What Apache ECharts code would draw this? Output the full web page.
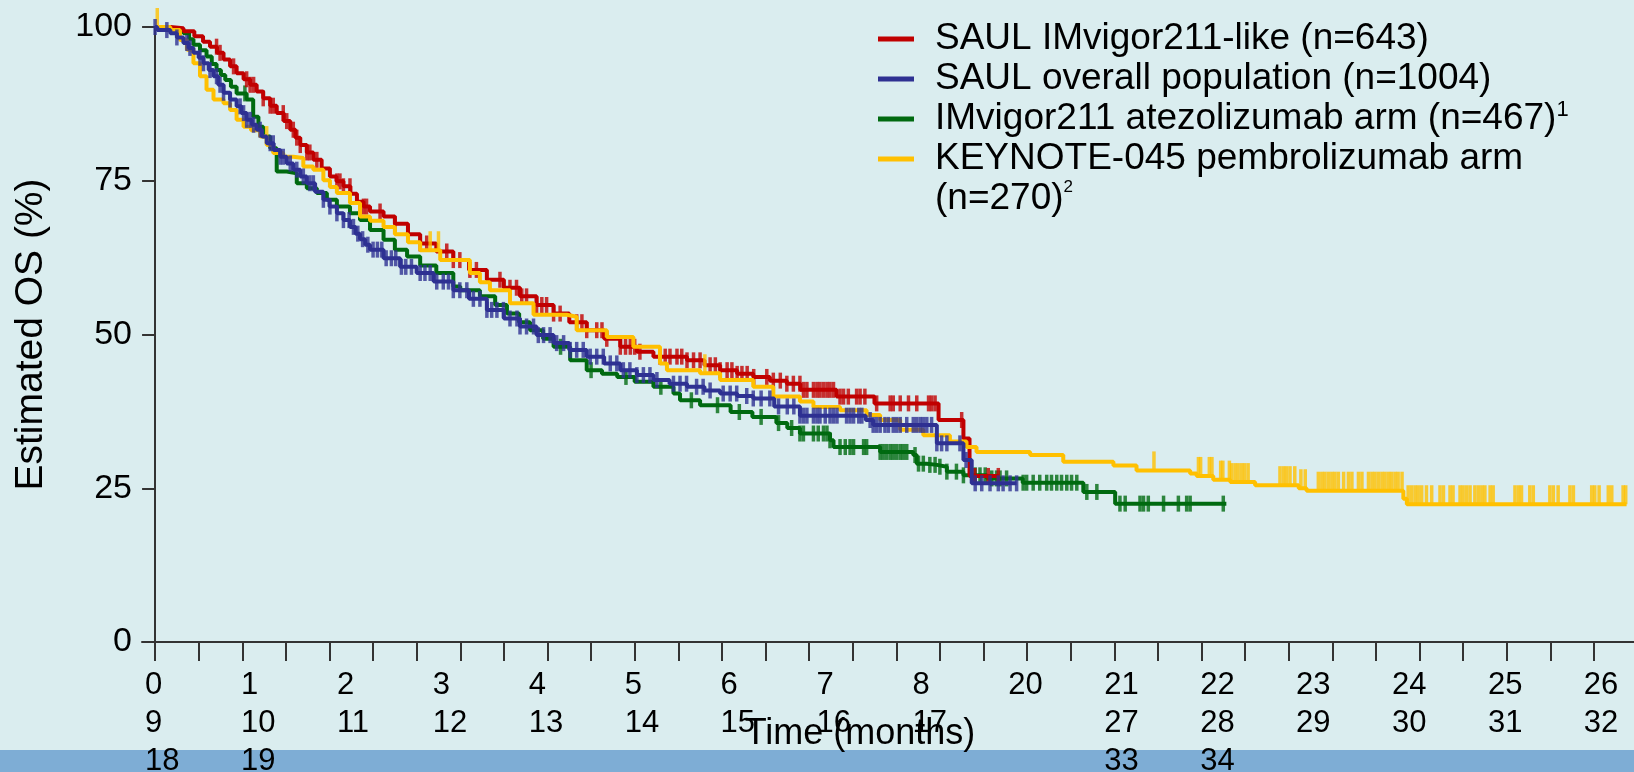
<!DOCTYPE html>
<html><head><meta charset="utf-8">
<script src="https://cdn.jsdelivr.net/npm/echarts@6/dist/echarts.min.js"></script>
<style>html,body{margin:0;padding:0;background:#daedef}#c{width:1634px;height:772px}</style>
</head><body><div id="c"></div><script>
// ---------- data ----------
const seriesNames = ['SAUL IMvigor211-like (n=643)','SAUL overall population (n=1004)','IMvigor211 atezolizumab arm (n=467)','KEYNOTE-045 pembrolizumab arm (n=270)'];
const legendTexts = ['SAUL IMvigor211-like (n=643)','SAUL overall population (n=1004)','IMvigor211 atezolizumab arm (n=467){sup|1}','KEYNOTE-045 pembrolizumab arm\n(n=270){sup2|2}'];
const seriesColors = ['#c00000','#2e3192','#006a10','#ffc000'];

const redCurve = [[0,100],[0.35,99.8],[0.65,99.3],[0.9,98.5],[1.1,97.6],[1.26,96.8],[1.42,95.8],[1.57,94.7],[1.72,93.6],[1.87,92.5],[2.03,91.5],[2.18,90.6],[2.33,89.5],[2.48,88.4],[2.64,87.2],[2.79,86.0],[2.95,84.7],[3.1,83.3],[3.22,82.0],[3.33,80.8],[3.48,79.6],[3.63,78.4],[3.82,77.0],[4.01,75.7],[4.16,74.9],[4.32,74.1],[4.48,72.9],[4.63,71.6],[4.78,70.8],[4.93,70.0],[5.24,69.2],[5.5,68.0],[5.8,66.3],[6.08,64.8],[6.45,63.5],[6.84,62.1],[7.2,60.5],[7.61,58.9],[8.0,57.6],[8.37,56.2],[8.75,54.8],[9.14,53.4],[9.5,52.0],[9.9,50.7],[10.3,49.3],[10.67,48.0],[11.05,47.2],[11.43,46.4],[12.2,45.8],[12.6,45.0],[12.96,44.2],[13.35,43.6],[13.72,43.1],[14.1,42.5],[14.49,42.0],[14.8,41.0],[15.63,39.9],[16.5,38.8],[17.97,36.1],[18.54,33.1],[18.68,27.0],[19.35,27.0]];
const blueCurve = [[0,100],[0.05,99.5],[0.35,99.0],[0.5,98.3],[0.65,97.4],[0.77,96.6],[0.88,95.8],[1.0,95.0],[1.11,94.1],[1.23,93.0],[1.34,92.0],[1.45,90.6],[1.57,89.3],[1.72,88.2],[1.87,87.1],[1.98,86.0],[2.1,84.9],[2.22,84.1],[2.33,83.3],[2.45,82.2],[2.56,81.1],[2.72,80.0],[2.87,78.9],[3.02,77.8],[3.17,76.8],[3.33,75.7],[3.48,74.6],[3.67,73.2],[3.86,71.9],[4.0,70.8],[4.17,69.7],[4.32,68.6],[4.47,67.5],[4.6,66.4],[4.7,65.5],[4.82,64.6],[4.93,63.8],[5.24,62.4],[5.62,61.0],[6.0,60.0],[6.39,58.6],[6.84,57.2],[7.2,55.8],[7.61,54.0],[8.0,52.6],[8.37,51.3],[8.75,49.9],[9.14,48.6],[9.5,47.5],[9.9,46.4],[10.3,45.3],[10.67,44.2],[11.05,43.4],[11.43,42.6],[11.8,42.0],[12.2,41.5],[12.6,40.9],[12.96,40.4],[13.35,40.0],[13.72,39.6],[14.2,38.3],[14.79,36.8],[16.3,36.1],[16.47,35.3],[17.93,32.3],[18.54,29.6],[18.73,25.8],[19.76,25.8]];
const greenCurve = [[0,100],[0.35,99.6],[0.65,99.0],[0.78,98.0],[0.88,97.1],[1.03,96.2],[1.18,95.2],[1.3,94.0],[1.41,93.0],[1.51,92.2],[1.61,91.4],[1.74,90.3],[1.87,89.2],[2.1,88.2],[2.25,85.4],[2.37,83.8],[2.48,82.2],[2.64,80.3],[2.79,76.5],[3.02,76.2],[3.25,74.6],[3.48,73.8],[3.71,73.0],[3.94,71.9],[4.17,70.8],[4.47,69.7],[4.7,68.6],[4.93,67.0],[5.24,65.4],[5.5,63.8],[5.78,62.7],[6.08,61.2],[6.45,60.0],[6.84,57.8],[7.0,57.2],[7.45,56.2],[7.8,54.8],[8.07,53.4],[8.35,52.0],[8.6,50.7],[8.9,49.3],[9.14,48.0],[9.52,45.8],[9.9,44.2],[10.25,43.6],[10.6,43.1],[11.0,42.3],[11.43,41.5],[11.89,40.4],[12.04,39.3],[12.5,38.5],[13.2,37.4],[13.7,36.6],[14.25,35.6],[14.5,34.8],[14.79,33.9],[15.48,32.8],[15.56,31.7],[16.63,30.9],[17.39,30.4],[17.47,29.0],[17.7,28.8],[17.93,28.5],[18.16,27.7],[18.54,27.1],[19.08,26.6],[19.9,25.9],[21.29,24.4],[22.02,22.5],[24.57,22.5]];
const yellowCurve = [[0,100],[0.19,100],[0.35,99.5],[0.57,97.9],[0.73,96.3],[0.88,94.1],[1.03,92.0],[1.18,89.8],[1.34,88.2],[1.57,87.6],[1.72,86.5],[1.87,84.9],[2.03,83.8],[2.2,83.2],[2.41,82.2],[2.56,80.8],[2.71,79.5],[2.94,78.9],[3.17,78.7],[3.4,77.3],[3.63,76.8],[3.86,75.1],[4.01,74.0],[4.17,73.0],[4.47,71.4],[4.7,69.2],[4.93,68.5],[5.24,67.5],[5.5,66.3],[5.8,65.0],[6.08,63.7],[6.54,62.1],[7.22,60.0],[7.45,58.5],[7.68,57.2],[8.14,55.1],[8.68,53.2],[9.44,52.9],[9.67,50.7],[10.36,49.6],[10.97,48.0],[11.58,45.3],[11.74,44.2],[12.5,43.7],[12.96,42.6],[13.72,41.5],[14.18,39.9],[14.79,39.1],[15.1,38.2],[15.71,37.7],[16.32,36.9],[16.63,36.1],[17.09,34.5],[17.62,33.6],[18.23,32.6],[18.61,31.7],[18.84,30.9],[20.07,30.4],[20.83,29.3],[21.98,28.7],[22.51,27.9],[23.74,27.4],[23.89,27.0],[24.27,26.4],[24.66,26.0],[25.23,25.5],[26.23,25.0],[26.41,24.6],[28.63,23.3],[28.71,22.4],[33.75,22.4]];

const redCensor = [1.41,1.49,1.8,2.1,2.18,2.26,2.48,2.64,2.71,2.94,3.02,3.17,3.25,3.33,3.48,3.55,3.71,4.17,4.24,4.32,4.47,4.78,4.85,5.16,5.5,5.8,6.08,6.23,6.69,6.84,6.99,7.22,7.37,7.91,8.14,8.29,8.41,8.52,8.75,8.87,8.98,9.14,9.29,9.67,9.79,9.9,10.13,10.25,10.36,10.67,10.79,10.9,11.0,11.12,11.58,11.7,11.81,11.97,12.08,12.2,12.35,12.5,12.73,12.85,12.96,13.12,13.23,13.35,13.46,13.58,13.73,14.03,14.18,14.34,14.49,14.64,14.79,14.87,14.95,15.1,15.18,15.25,15.33,15.41,15.48,15.56,15.71,15.79,15.9,16.09,16.17,16.28,16.55,16.86,16.93,17.09,17.28,17.47,17.74,17.81,17.89,18.5,18.8,19.11,19.34];
const blueCensor = [0.0,0.27,0.5,0.73,0.8,1.03,1.11,1.26,1.41,1.49,1.57,1.72,1.95,2.03,2.1,2.18,2.26,2.41,2.64,2.71,2.87,2.94,3.1,3.25,3.4,3.55,3.63,3.86,4.01,4.17,4.32,4.45,4.55,4.65,4.76,4.88,5.0,5.1,5.2,5.3,5.42,5.52,5.65,5.75,5.88,6.08,6.19,6.31,6.46,6.61,6.73,6.84,6.99,7.15,7.3,7.45,7.61,7.72,7.84,7.99,8.14,8.3,8.37,8.52,8.68,8.79,8.91,9.06,9.21,9.37,9.52,9.67,9.82,9.98,10.13,10.28,10.44,10.59,10.74,10.89,11.05,11.2,11.35,11.51,11.89,12.04,12.19,12.42,12.57,12.73,13.03,13.19,13.34,13.57,13.72,13.9,14.1,14.3,14.5,14.65,14.79,14.87,14.95,15.1,15.18,15.25,15.37,15.48,15.56,15.64,15.86,15.94,16.02,16.14,16.21,16.4,16.47,16.55,16.63,16.74,16.82,16.93,17.01,17.09,17.24,17.39,17.47,17.55,17.62,17.7,17.81,17.93,18.04,18.16,18.46,18.6,18.81,18.96,19.15,19.34,19.45,19.61,19.76];
const greenCensor = [2.06,9.3,10.0,10.8,11.6,12.3,12.9,13.4,13.9,14.3,14.6,14.79,14.87,15.1,15.21,15.33,15.41,15.48,15.71,15.83,15.94,16.02,16.25,16.32,16.63,16.7,16.78,16.86,16.93,17.01,17.09,17.16,17.24,17.43,17.51,17.62,17.77,17.89,18.0,18.16,18.38,18.54,18.81,18.92,19.04,19.19,19.3,19.38,19.53,19.91,19.99,20.14,20.29,20.45,20.56,20.68,20.79,20.91,21.02,21.14,21.37,21.6,22.13,22.25,22.59,22.67,22.78,23.13,23.47,23.66,23.74,24.5];
const yellowCensor = [0.05,2.56,6.31,6.5,12.61,22.91,23.93,23.98,24.18,24.24,24.44,24.49,24.64,24.69,24.77,24.84,24.92,24.99,25.07,25.8,25.88,25.95,26.03,26.14,26.28,26.38,26.68,26.76,26.83,26.91,26.99,27.06,27.14,27.26,27.37,27.45,27.6,27.68,27.83,27.91,27.98,28.06,28.14,28.21,28.29,28.36,28.44,28.51,28.6,28.74,28.82,28.9,28.97,29.05,29.16,29.28,29.47,29.55,29.7,29.77,29.93,30.0,30.08,30.16,30.27,30.35,30.43,30.5,30.62,30.69,31.19,31.27,31.34,31.53,31.61,31.99,32.07,32.18,32.45,32.53,32.95,33.02,33.12,33.33,33.41,33.67,33.73];

const yTicks = [0,25,50,75,100];
const xTicks = [0,1,2,3,4,5,6,7,8,9,10,11,12,13,14,15,16,17,18,19,20,21,22,23,24,25,26,27,28,29,30,31,32,33];
const xLabelRow1 = ['0','1','2','3','4','5','6','7','8','20','21','22','23','24','25','26'];
const xLabelRow2 = ['9','10','11','12','13','14','15','16','17','','27','28','29','30','31','32'];
const xLabelRow3 = ['18','19','','','','','','','','','33','34','','','',''];

// ---------- layout constants ----------
const FONT = '"Liberation Sans", Arial, Helvetica, sans-serif';
const LABEL_COL0 = -0.23, LABEL_STEP = 2.2;

function stepAt(curve, t) {
  let v = curve[0][1];
  for (const p of curve) { if (p[0] <= t + 1e-9) v = p[1]; else break; }
  return v;
}
const labelValues = xLabelRow1.map((_, k) => +(LABEL_COL0 + k * LABEL_STEP).toFixed(4));
function labelText(v) {
  const k = Math.round((v - LABEL_COL0) / LABEL_STEP);
  return [xLabelRow1[k], xLabelRow2[k], xLabelRow3[k]].join('\n');
}

const curves = [redCurve, blueCurve, greenCurve, yellowCurve];
const censors = [redCensor, blueCensor, greenCensor, yellowCensor];
const zOrder = [3, 5, 2, 4];

const series = [];
curves.forEach((c, i) => {
  series.push({
    type: 'line', name: seriesNames[i], data: c, step: 'end', symbol: 'none', showSymbol: false,
    lineStyle: { width: 4, color: seriesColors[i] }, itemStyle: { color: seriesColors[i] },
    z: zOrder[i], silent: true, animation: false, clip: false
  });
  const isYellow = i === 3;
  series.push({
    type: 'scatter', name: 'censor-' + i,
    data: censors[i].map(t => [t, stepAt(c, t)]),
    symbol: 'rect', symbolSize: isYellow ? [3.5, 19] : [3.5, 16],
    symbolOffset: isYellow ? [0, -9.5] : [0, 0],
    itemStyle: { color: seriesColors[i] }, z: zOrder[i], silent: true, animation: false, clip: false
  });
});

const chart = echarts.init(document.getElementById('c'), null, { renderer: 'canvas' });
chart.setOption({
  backgroundColor: '#daedef',
  animation: false,
  textStyle: { fontFamily: FONT },
  grid: { left: 142, right: 0, top: 27, bottom: 130, containLabel: false, outerBoundsMode: 'none' },
  graphic: [{ type: 'rect', z: -10, shape: { x: 0, y: 750, width: 1634, height: 22 }, style: { fill: '#7eadd5' } }],
  legend: {
    orient: 'vertical', left: 878, top: 19, padding: 0, itemGap: 0,
    itemWidth: 36, itemHeight: 5, icon: 'rect', selectedMode: false,
    data: seriesNames.map((n, i) => i === 3 ? { name: n, textStyle: { padding: [0, 0, -40, 16] } } : { name: n }),
    formatter: name => legendTexts[seriesNames.indexOf(name)],
    textStyle: {
      fontFamily: FONT, fontSize: 37, lineHeight: 40, color: '#000', padding: [0, 0, 0, 16],
      rich: {
        sup: { fontFamily: FONT, fontSize: 22, lineHeight: 22, verticalAlign: 'top', color: '#000' },
        sup2: { fontFamily: FONT, fontSize: 17, lineHeight: 17, verticalAlign: 'top', color: '#000' }
      }
    }
  },
  xAxis: {
    type: 'value', min: -0.3, max: 33.92,
    axisLine: { show: true, onZero: true, lineStyle: { color: '#333', width: 2 } },
    axisTick: { show: true, length: 19, customValues: xTicks, lineStyle: { color: '#333', width: 2 } },
    axisLabel: {
      customValues: labelValues, formatter: v => labelText(v), align: 'left',
      margin: 24, fontSize: 31, lineHeight: 38, color: '#000', fontFamily: FONT
    },
    splitLine: { show: false },
    name: 'Time (months)', nameLocation: 'middle', nameGap: 74, nameMoveOverlap: false,
    nameTextStyle: { fontSize: 36, color: '#000', fontFamily: FONT, padding: [0, 56, 0, 0] }
  },
  yAxis: {
    type: 'value', min: 0, max: 100, interval: 25,
    axisLine: { show: true, onZero: true, lineStyle: { color: '#333', width: 2 } },
    axisTick: { show: true, length: 13, lineStyle: { color: '#333', width: 2 } },
    axisLabel: { fontSize: 34, margin: 10, color: '#000', fontFamily: FONT,
      formatter: v => yTicks.indexOf(v) >= 0 ? String(v) : '' },
    splitLine: { show: false },
    name: 'Estimated OS (%)', nameLocation: 'middle', nameGap: 91, nameRotate: 90, nameMoveOverlap: false,
    nameTextStyle: { fontSize: 39, color: '#000', fontFamily: FONT }
  },
  series: series
});
</script></body></html>
